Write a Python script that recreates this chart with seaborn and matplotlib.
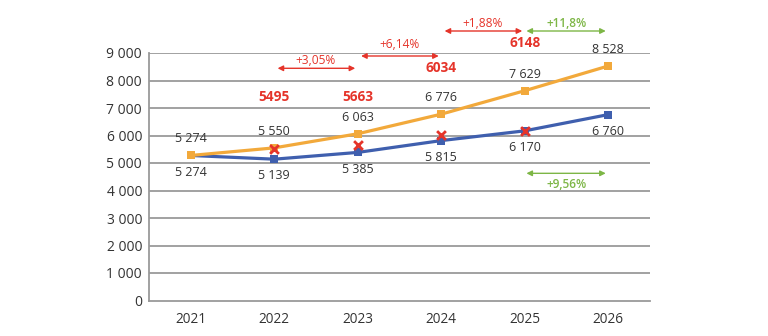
import matplotlib
matplotlib.use("Agg")
import matplotlib.pyplot as plt
import seaborn as sns
import pandas as pd

years = ["2021", "2022", "2023", "2024", "2025", "2026"]
orange_vals = [5274, 5550, 6063, 6776, 7629, 8528]
blue_vals = [5274, 5139, 5385, 5815, 6170, 6760]
red_years = ["2022", "2023", "2024", "2025"]
red_vals = [5495, 5663, 6034, 6148]
red_labels = ["5495", "5663", "6034", "6148"]
red_pct = ["+3,05%", "+6,14%", "+1,88%"]
green_top = "+11,8%"
green_bottom = "+9,56%"
yticks = [0, 1000, 2000, 3000, 4000, 5000, 6000, 7000, 8000, 9000]

ORANGE = "#F2A93B"
BLUE = "#3F5FAE"
RED = "#E5342A"
GREEN = "#7DB646"
GRID = "#9a9a9a"
TXT = "#333333"

sns.set_theme(style="white")
plt.rcParams['font.family'] = ['Open Sans', 'DejaVu Sans']

fig = plt.figure(figsize=(7.68, 3.36), dpi=100)
ax = fig.add_axes([149/768, 1-300.5/336, (650-149)/768, (300.5-53)/336])

df = pd.DataFrame({"year": years, "orange": orange_vals, "blue": blue_vals})
dfr = pd.DataFrame({"year": red_years, "val": red_vals})

for y in yticks[1:]:
    ax.axhline(y, color=GRID, lw=1.3, zorder=0)

sns.lineplot(data=df, x="year", y="blue", ax=ax, color=BLUE, lw=2.3,
             marker="s", markersize=5.5, markeredgewidth=0, sort=False, zorder=3)
sns.lineplot(data=df, x="year", y="orange", ax=ax, color=ORANGE, lw=2.3,
             marker="s", markersize=5.5, markeredgewidth=0, sort=False, zorder=3)
sns.scatterplot(data=dfr, x="year", y="val", ax=ax, marker="x", color=RED,
                s=40, linewidth=2.0, zorder=4)

ax.set_xlim(-0.5, 5.5)
ax.set_ylim(0, 9000)
ax.set_xlabel("")
ax.set_ylabel("")
ax.set_yticks(yticks)
ax.set_yticklabels([f"{v:,}".replace(",", " ") for v in yticks], fontsize=10, color=TXT)
ax.set_xticks(range(len(years)))
ax.set_xticklabels(years, fontsize=9.8, color=TXT)
ax.tick_params(axis="x", length=0, pad=8)
ax.tick_params(axis="y", length=0, pad=5)
ax.set_xticks([i + 0.5 for i in range(len(years))], minor=True)
ax.tick_params(axis="x", which="minor", direction="in", length=5, width=1.2, color=GRID)

for s in ["top", "right"]:
    ax.spines[s].set_visible(False)
for s in ["left", "bottom"]:
    ax.spines[s].set_color(GRID)
    ax.spines[s].set_linewidth(1.3)

# value labels
for i, (o, b) in enumerate(zip(orange_vals, blue_vals)):
    ax.annotate(f"{o:,}".replace(",", " "), (i, o), xytext=(0, 12), textcoords="offset points",
                ha="center", va="center", fontsize=9, color=TXT, annotation_clip=False)
    ax.annotate(f"{b:,}".replace(",", " "), (i, b), xytext=(0, -12), textcoords="offset points",
                ha="center", va="center", fontsize=9, color=TXT, annotation_clip=False)

# red bold labels
red_label_y = [7411, 7411, 8444, 9353]
for yr, lab, ly in zip(red_years, red_labels, red_label_y):
    i = years.index(yr)
    ax.text(i, ly, lab, ha="center", va="center", fontsize=9.8, fontweight="bold",
            color=RED, clip_on=False)

def arrow(x0, x1, y, color):
    ax.annotate("", xy=(x1, y), xytext=(x0, y),
                arrowprops=dict(arrowstyle="<|-|>", color=color, lw=1.0,
                                mutation_scale=8, shrinkA=0, shrinkB=0),
                annotation_clip=False)

arrow_specs = [(1, 8444, 8710), (2, 8891, 9291), (3, 9800, 10080)]
for (i, ay, ty), pct in zip(arrow_specs, red_pct):
    arrow(i + 0.04, i + 0.97, ay, RED)
    ax.text(i + 0.5, ty, pct, ha="center", va="center", fontsize=8.6, color=RED, clip_on=False)

arrow(4.02, 4.97, 9800, GREEN)
ax.text(4.5, 10080, green_top, ha="center", va="center", fontsize=8.6, color=GREEN,
        fontweight="semibold", clip_on=False)
arrow(4.02, 4.97, 4625, GREEN)
ax.text(4.5, 4225, green_bottom, ha="center", va="center", fontsize=8.6, color=GREEN,
        fontweight="semibold", clip_on=False)

fig.savefig("out.png", dpi=100)
